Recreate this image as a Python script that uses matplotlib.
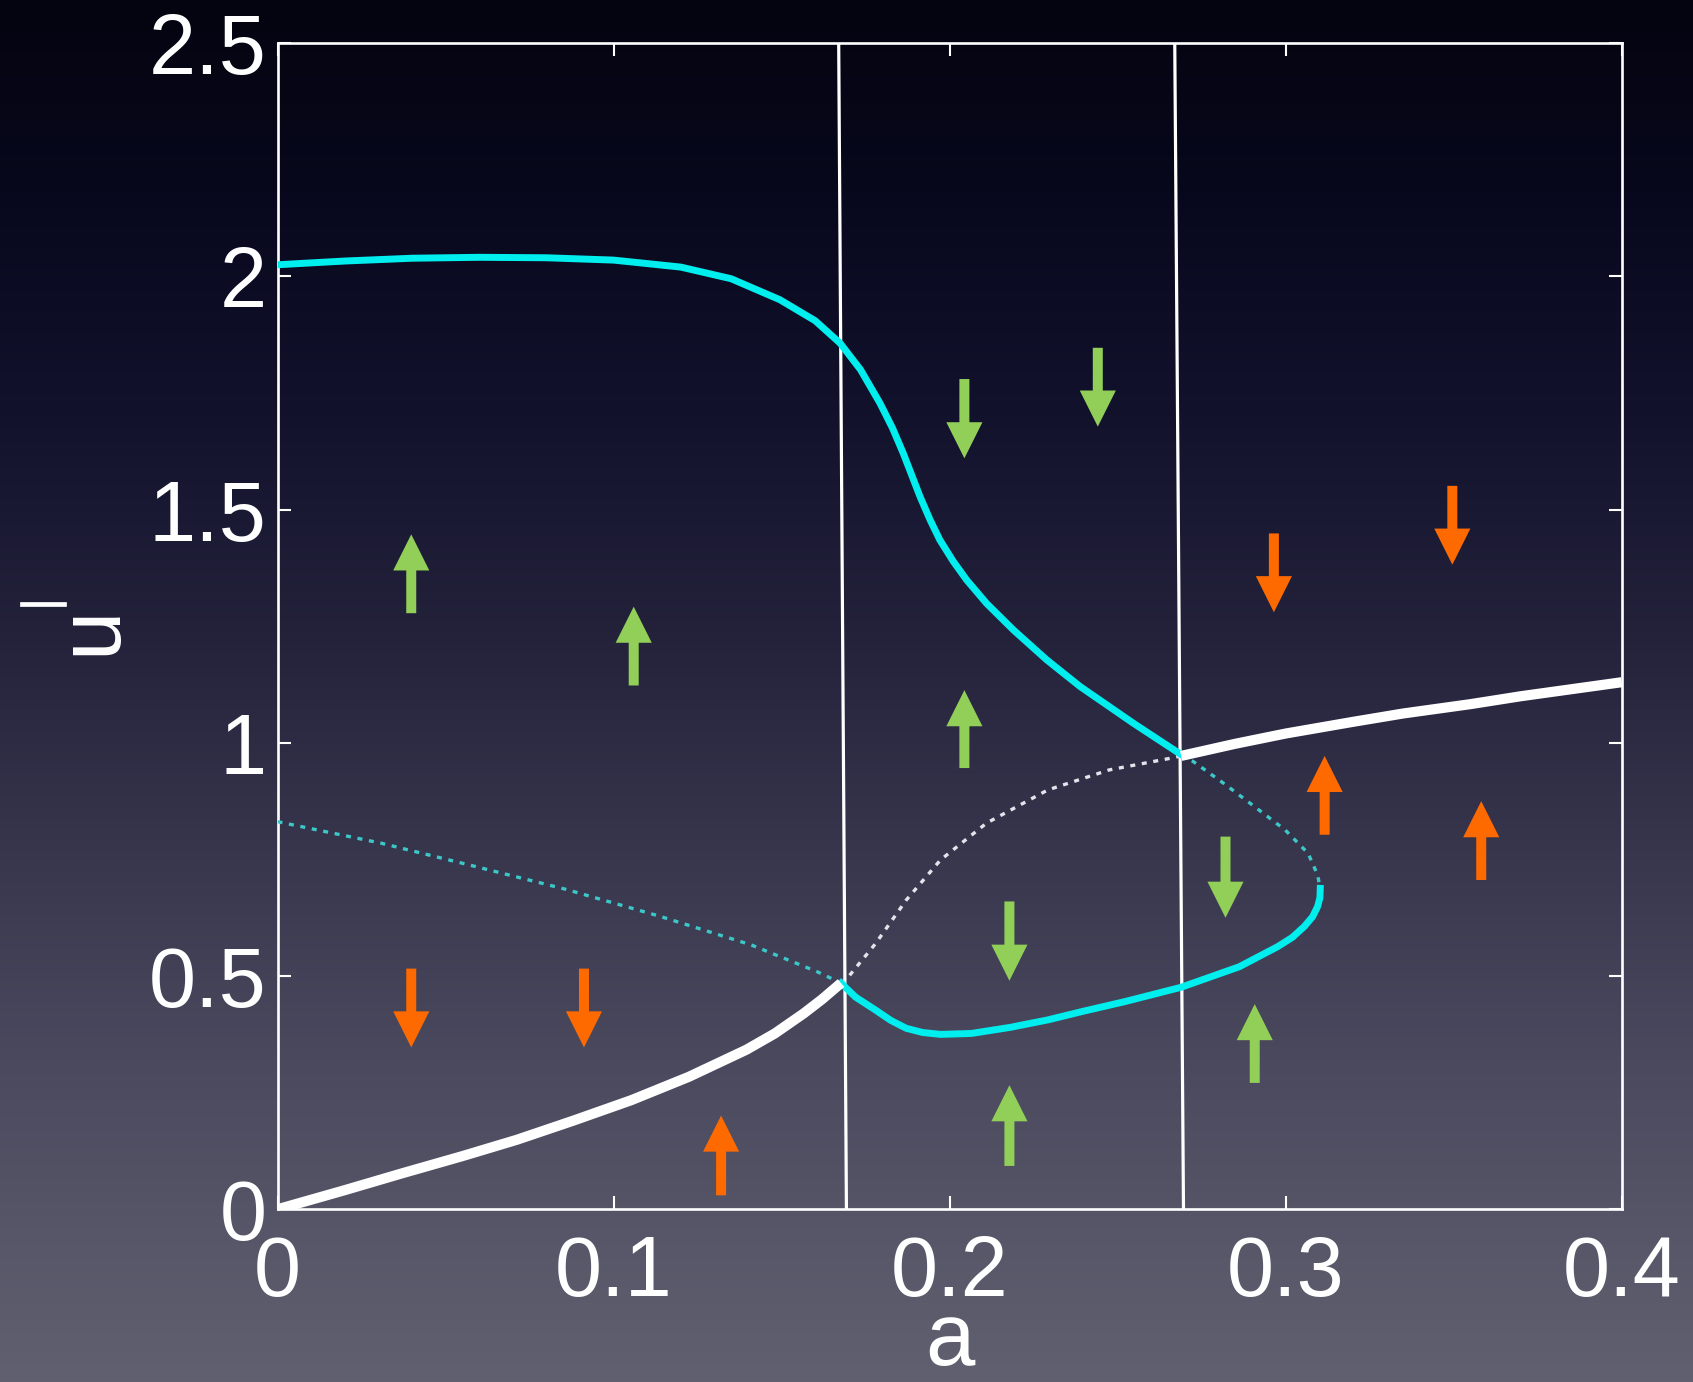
import numpy as np
import matplotlib
matplotlib.use("Agg")
import matplotlib.pyplot as plt
from matplotlib.lines import Line2D

plt.rcParams['font.family'] = ['Liberation Sans', 'DejaVu Sans']
plt.rcParams['lines.scale_dashes'] = False

# ---------------- data ----------------
# stable lower branch (white, solid)
a_low = [0.0, 0.02, 0.037, 0.055, 0.0712, 0.088, 0.1053, 0.1224, 0.1395,
         0.148, 0.1566, 0.162, 0.1677]
u_low = [0.0, 0.041, 0.077, 0.114, 0.149, 0.19, 0.234, 0.284, 0.342,
         0.377, 0.420, 0.45, 0.485]

# stable upper branch (white, solid)
a_up = [0.2689, 0.285, 0.30, 0.32, 0.335, 0.355, 0.37, 0.385, 0.40]
u_up = [0.972, 0.998, 1.02, 1.045, 1.063, 1.083, 1.10, 1.115, 1.13]

# cyan upper branch (solid)
a_cu = [0.0, 0.02, 0.04, 0.06, 0.08, 0.10, 0.12, 0.135, 0.1495, 0.16,
        0.1674, 0.1735, 0.1793, 0.183, 0.1862, 0.1912, 0.1942, 0.1971,
        0.2011, 0.2051, 0.211, 0.219, 0.2289, 0.2388, 0.2547, 0.2676, 0.2689]
u_cu = [2.025, 2.033, 2.039, 2.041, 2.04, 2.035, 2.02, 1.995, 1.95, 1.905,
        1.857, 1.80, 1.728, 1.675, 1.621, 1.528, 1.478, 1.435,
        1.389, 1.349, 1.299, 1.242, 1.178, 1.121, 1.042, 0.981, 0.975]

# cyan lower branch (solid)
a_cl = [0.1677, 0.172, 0.178, 0.1825, 0.1871, 0.192, 0.1973, 0.2065, 0.218,
        0.2292, 0.24, 0.252, 0.2689, 0.2862, 0.2976, 0.302, 0.3055, 0.308,
        0.3095, 0.3102, 0.3103]
u_cl = [0.485, 0.455, 0.427, 0.405, 0.388, 0.379, 0.375, 0.377, 0.39,
        0.406, 0.425, 0.445, 0.476, 0.520, 0.563, 0.583, 0.606, 0.627,
        0.649, 0.668, 0.688]

# unstable white branch (dotted)
a_wd = [0.1677, 0.1695, 0.178, 0.1871, 0.1973, 0.211, 0.2292, 0.2475, 0.2657, 0.2689]
u_wd = [0.485, 0.495, 0.570, 0.663, 0.749, 0.828, 0.899, 0.942, 0.967, 0.972]

# unstable cyan branches (dotted)
a_cd1 = [0.0, 0.0308, 0.0583, 0.0858, 0.1134, 0.1409, 0.1607, 0.1677]
u_cd1 = [0.831, 0.785, 0.736, 0.686, 0.629, 0.567, 0.509, 0.485]
a_cd2 = [0.2689, 0.2725, 0.2816, 0.2908, 0.2999, 0.3067, 0.3095, 0.3103]
u_cd2 = [0.972, 0.960, 0.913, 0.863, 0.813, 0.763, 0.717, 0.688]

# vertical boundary lines (top and bottom a-values)
vline_a_top = [0.1670, 0.2670]
vline_a_bot = [0.1693, 0.2696]

# arrows: a position, tail u, tip u
green_a    = [0.0398, 0.106, 0.2044, 0.2178, 0.2908, 0.2044, 0.2441, 0.2178, 0.2821]
green_tail = [1.278, 1.123, 0.946, 0.093, 0.271, 1.780, 1.847, 0.660, 0.799]
green_tip  = [1.447, 1.292, 1.113, 0.266, 0.440, 1.610, 1.678, 0.490, 0.625]

orange_a    = [0.0398, 0.0912, 0.2965, 0.3496, 0.132, 0.3116, 0.3582]
orange_tail = [0.516, 0.516, 1.449, 1.551, 0.030, 0.803, 0.706]
orange_tip  = [0.347, 0.347, 1.280, 1.382, 0.201, 0.972, 0.875]

xticks = [0, 0.1, 0.2, 0.3, 0.4]
xticklabels = ['0', '0.1', '0.2', '0.3', '0.4']
yticks = [0, 0.5, 1, 1.5, 2, 2.5]
yticklabels = ['0', '0.5', '1', '1.5', '2', '2.5']

# ---------------- figure ----------------
W, H, DPI = 1693, 1382, 100
fig = plt.figure(figsize=(W / DPI, H / DPI), dpi=DPI)

# gradient background
bg = fig.add_axes([0, 0, 1, 1], zorder=-10)
bg.axis('off')
stops = np.array([0.0, 0.15, 0.3, 0.45, 0.6, 0.75, 0.9, 1.0])
cols = np.array([[4, 4, 16], [8, 8, 30], [18, 18, 45], [35, 33, 58],
                 [54, 52, 75], [72, 71, 92], [88, 87, 105], [97, 96, 112]]) / 255.0
t = np.linspace(0, 1, 400)
grad = np.stack([np.interp(t, stops, cols[:, k]) for k in range(3)], axis=-1)
grad = np.repeat(grad[:, None, :], 4, axis=1)
bg.imshow(grad, aspect='auto', extent=[0, 1, 0, 1], origin='upper')
bg.set_xlim(0, 1); bg.set_ylim(0, 1)

left, right = 277.5 / W, 1621.7 / W
bottom, top = 1 - 1209.3 / H, 1 - 43.2 / H
ax = fig.add_axes([left, bottom, right - left, top - bottom])
ax.set_facecolor('none')
ax.set_xlim(0, 0.4)
ax.set_ylim(0, 2.5)

cyan = '#00eeee'
cyan_dot = '#3cc8c8'
white = '#ffffff'
green = '#92cf58'
orange = '#ff6a00'

# vertical lines
for at, ab in zip(vline_a_top, vline_a_bot):
    ax.plot([at, ab], [2.5, 0], color=white, lw=2.3, zorder=3, solid_capstyle='butt')

dots = (0, (3.6, 4.8))
ax.plot(a_cd1, u_cd1, color=cyan_dot, lw=2.4, linestyle=dots, zorder=4)
ax.plot(a_cd2, u_cd2, color=cyan_dot, lw=2.4, linestyle=dots, zorder=4)
ax.plot(a_wd, u_wd, color='#e4e4ec', lw=2.4, linestyle=dots, zorder=4)

ax.plot(a_cu, u_cu, color=cyan, lw=5.0, zorder=5, solid_joinstyle='round')
ax.plot(a_cl, u_cl, color=cyan, lw=5.0, zorder=5, solid_joinstyle='round')
ax.plot(a_low, u_low, color=white, lw=7.3, zorder=6, solid_joinstyle='round',
        solid_capstyle='butt')
ax.plot(a_up, u_up, color=white, lw=7.3, zorder=6, solid_joinstyle='round',
        solid_capstyle='butt')

def arrows(xs, tails, tips, color):
    for x, t0, t1 in zip(xs, tails, tips):
        ax.annotate('', xy=(x, t1), xytext=(x, t0),
                    arrowprops=dict(width=7.2, headwidth=26, headlength=26,
                                    shrink=0, color=color, lw=0),
                    zorder=7)

arrows(green_a, green_tail, green_tip, green)
arrows(orange_a, orange_tail, orange_tip, orange)

# axes styling
for s in ax.spines.values():
    s.set_color(white)
    s.set_linewidth(1.9)
ax.set_xticks(xticks)
ax.set_xticklabels(xticklabels)
ax.set_yticks(yticks)
ax.set_yticklabels(yticklabels)
ax.tick_params(direction='in', length=9.4, width=1.5, colors=white,
               top=True, right=True, labelsize=61)
ax.tick_params(axis='x', pad=18)
ax.tick_params(axis='y', pad=8)
for lab in ax.get_xticklabels() + ax.get_yticklabels():
    lab.set_color(white)

ax.set_xlabel('a', fontsize=64, color=white, labelpad=-10)

# y label: rotated u with a separately drawn (unrotated) bar, as in the reference
fig.text(115 / W, 1 - 630 / H, 'u', rotation=90, fontsize=64, color=white,
         ha='center', va='baseline', rotation_mode='anchor')
fig.add_artist(Line2D([22 / W, 64 / W], [1 - 604 / H, 1 - 604 / H],
                      color=white, lw=3.4, transform=fig.transFigure))

fig.savefig('out.png', dpi=DPI)
